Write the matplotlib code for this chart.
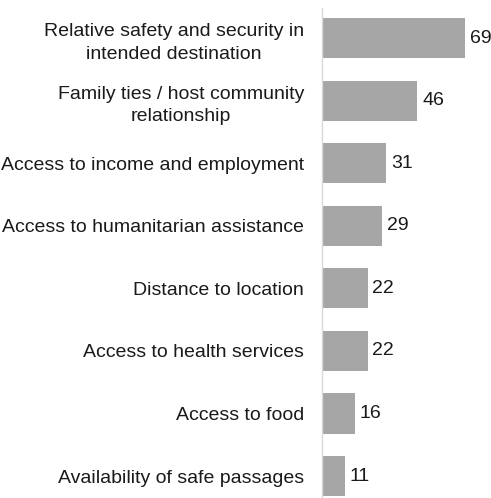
import matplotlib.pyplot as plt

reasons = [
    "Relative safety and security in\nintended destination",
    "Family ties / host community\nrelationship",
    "Access to income and employment",
    "Access to humanitarian assistance",
    "Distance to location",
    "Access to health services",
    "Access to food",
    "Availability of safe passages",
]
percent = [69, 46, 31, 29, 22, 22, 16, 11]

plt.rcParams['font.family'] = ["Liberation Sans", "DejaVu Sans"]

fig = plt.figure(figsize=(4.91, 4.98), dpi=100)
ax = fig.add_axes([322 / 491, 0, 166 / 491, 490 / 498])

pos = list(range(len(reasons)))
ax.barh(pos, percent, height=0.64, color="#a6a6a6", left=0)
for p, v in zip(pos, percent):
    ax.text(v + 2.3, p, str(v), va="center", ha="left", fontsize=14, color="#1a1a1a")

ax.set_xlim(0, 80)
ax.set_ylim(7.35, -0.48)
ax.set_yticks(pos)
ax.set_yticklabels(reasons, fontsize=14, color="#1a1a1a", multialignment="center",
                   linespacing=1.45)
ax.tick_params(axis="y", length=0, pad=13)
ax.set_xticks([])
for s in ["top", "right", "bottom"]:
    ax.spines[s].set_visible(False)
ax.spines["left"].set_color("#d9d9d9")
ax.spines["left"].set_linewidth(1)

fig.savefig("out.png", dpi=100)
